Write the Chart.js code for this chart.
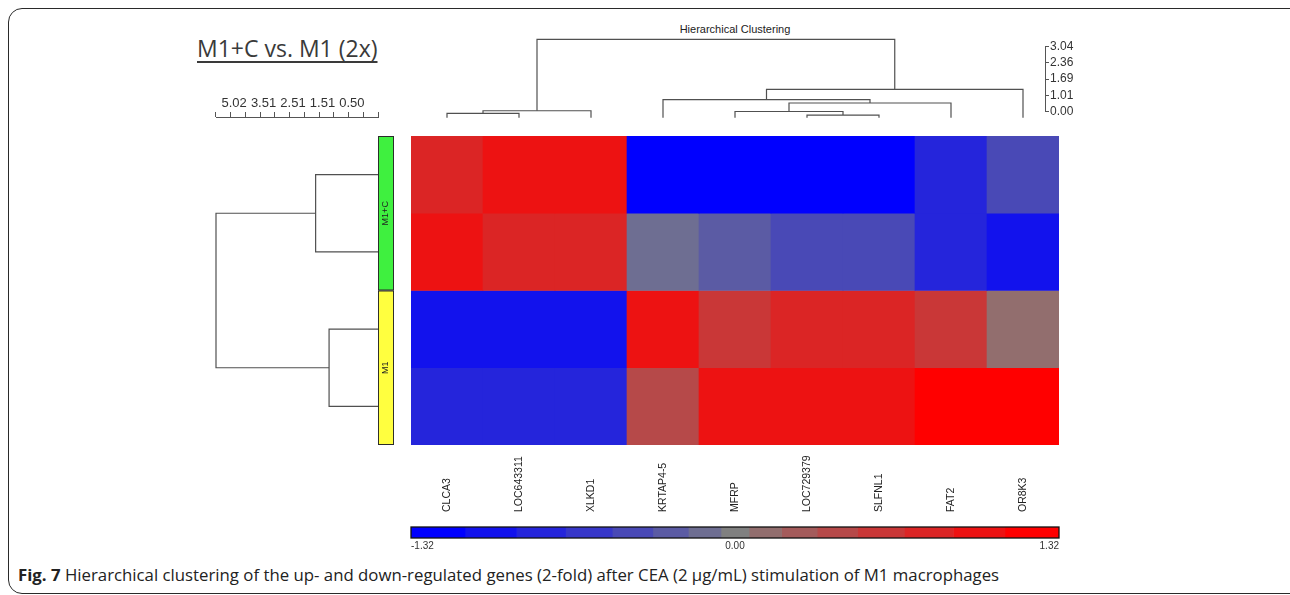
<!DOCTYPE html>
<html>
<head>
<meta charset="utf-8">
<script src="https://cdn.jsdelivr.net/npm/chart.js@4.4.1/dist/chart.umd.min.js"></script>
<style>
html, body { margin: 0; padding: 0; background: #fff; overflow: hidden; }
body { width: 1290px; height: 595px; position: relative; font-family: "Liberation Sans", Arial, sans-serif; }
.frame { position: absolute; left: 8px; top: 8px; width: 1300px; height: 586px; border: 1.5px solid #2a2a2a; border-radius: 14px; box-sizing: border-box; }
canvas { position: absolute; }
.title { position: absolute; left: 197px; top: 32px; font: 23px "Open Sans", sans-serif; color: #3a3a3a; text-decoration: underline; text-decoration-thickness: 2px; text-underline-offset: 4px; }
.hc { position: absolute; left: 635px; width: 200px; top: 23px; text-align: center; font-size: 11px; color: #222; }
.cap { position: absolute; left: 18px; top: 563px; font: 16.8px "Open Sans", sans-serif; color: #222; white-space: nowrap; }
</style>
</head>
<body>
<div class="frame"></div>
<div class="title">M1+C vs. M1 (2x)</div>
<div class="hc">Hierarchical Clustering</div>
<canvas id="geneTree" width="648" height="85" style="left:411px;top:35px"></canvas>
<canvas id="geneScale" width="80" height="82" style="left:1005px;top:38px"></canvas>
<canvas id="sampleScale" width="182" height="32" style="left:206px;top:93px"></canvas>
<canvas id="sampleTree" width="174" height="321" style="left:210px;top:130px"></canvas>
<canvas id="sampleStrip" width="24" height="317" style="left:374px;top:132px"></canvas>
<canvas id="heatmap" width="648" height="384" style="left:411px;top:136px"></canvas>
<canvas id="colorBar" width="660" height="30" style="left:405px;top:524px"></canvas>
<div class="cap"><b>Fig. 7</b> Hierarchical clustering of the up- and down-regulated genes (2-fold) after CEA (2 µg/mL) stimulation of M1 macrophages</div>
<script>
const genes = ['CLCA3', 'LOC643311', 'XLKD1', 'KRTAP4-5', 'MFRP', 'LOC729379', 'SLFNL1', 'FAT2', 'OR8K3'];
const samples = ['M1+C', 'M1+C', 'M1', 'M1'];

// z-scores per sample row, in gene order
const zM1C_a = [0.80, 1.00, 1.05, -1.32, -1.30, -1.28, -1.29, -0.78, -0.42];
const zM1C_b = [1.02, 0.76, 0.78, -0.12, -0.26, -0.44, -0.45, -0.80, -1.02];
const zM1_a = [-1.00, -1.01, -0.99, 1.04, 0.60, 0.79, 0.80, 0.58, 0.12];
const zM1_b = [-0.82, -0.84, -0.75, 0.42, 1.00, 1.02, 0.98, 1.25, 1.30];

const colorBreaks = [-1.32, -1.10, -0.89, -0.69, -0.50, -0.335, -0.19, -0.057, 0.057, 0.19, 0.335, 0.50, 0.69, 0.89, 1.10, 1.32];
const colorTicks = [-1.32, 0, 1.32];

// [left node, right node, height]; leaves are 0..n-1, merge i becomes node n+i
const geneMerges = [[0, 1, 0.17], [9, 2, 0.27], [5, 6, 0.10], [4, 11, 0.24], [12, 7, 0.57], [3, 13, 0.70], [14, 8, 1.10], [10, 15, 3.04]];
const sampleMerges = [[0, 1, 3.85], [2, 3, 3.02], [4, 5, 10]];

const geneHeightTicks = ['3.04', '2.36', '1.69', '1.01', '0.00'];
const sampleHeightTicks = ['5.02', '3.51', '2.51', '1.51', '0.50'];

const groupColors = { 'M1+C': '#3ff03f', 'M1': '#ffff3f' };

Chart.defaults.font.family = '"Liberation Sans", Arial, sans-serif';
Chart.defaults.color = '#333';
Chart.defaults.animation = false;
Chart.defaults.responsive = false;
Chart.defaults.events = [];
Chart.defaults.plugins.legend.display = false;
Chart.defaults.plugins.tooltip.enabled = false;

function segmentColor(i) {
    const level = i - 7;
    const f = Math.abs(level) / 7;
    const g = Math.round(128 * (1 - f));
    const hi = Math.round(128 + 127 * f);
    return level < 0 ? `rgb(${g},${g},${hi})` : `rgb(${hi},${g},${g})`;
}

function colorFor(v) {
    let i = 0;
    while (i < colorBreaks.length - 2 && v >= colorBreaks[i + 1]) i++;
    return segmentColor(i);
}

function dendroSegments(merges, nLeaves) {
    const pos = [];
    const hgt = [];
    for (let i = 0; i < nLeaves; i++) { pos.push(i + 0.5); hgt.push(0); }
    return merges.map(([a, b, h]) => {
        const seg = [[pos[a], hgt[a]], [pos[a], h], [pos[b], h], [pos[b], hgt[b]]];
        pos.push((pos[a] + pos[b]) / 2);
        hgt.push(h);
        return seg;
    });
}

const treeLine = { showLine: true, borderColor: '#505050', borderWidth: 1.2, pointRadius: 0, clip: false };

// top dendrogram
new Chart(document.getElementById('geneTree'), {
    type: 'scatter',
    data: {
        datasets: dendroSegments(geneMerges, genes.length).map(seg => ({
            ...treeLine,
            data: seg.map(([p, h]) => ({ x: p, y: h })),
        })),
    },
    options: {
        layout: { padding: { top: 4.3, bottom: 2.3 } },
        scales: {
            x: { type: 'linear', display: false, min: 0, max: genes.length },
            y: { type: 'linear', display: false, min: 0, max: 3.04 },
        },
    },
});

// height scale for the gene tree
new Chart(document.getElementById('geneScale'), {
    type: 'bar',
    data: { labels: geneHeightTicks, datasets: [] },
    options: {
        layout: { padding: { top: 7, bottom: 7 } },
        scales: {
            x: { display: false },
            y: {
                type: 'category',
                position: 'right',
                offset: false,
                afterFit: s => { s.width = 40; },
                grid: { drawOnChartArea: false, tickLength: 4, color: '#555' },
                border: { color: '#555', width: 1 },
                ticks: { autoSkip: false, padding: 1, font: { size: 12 }, color: '#333' },
            },
        },
    },
});

// distance scale for the sample tree
new Chart(document.getElementById('sampleScale'), {
    type: 'bar',
    data: { datasets: [] },
    options: {
        layout: { padding: { left: 10, right: 10 } },
        scales: {
            y: { display: false },
            x: {
                type: 'linear',
                position: 'top',
                min: 0,
                max: 10,
                afterFit: s => { s.height = 24; },
                afterBuildTicks: s => { s.ticks = Array.from({ length: 11 }, (_, i) => ({ value: i })); },
                grid: { drawOnChartArea: false, tickLength: 5, color: '#555' },
                border: { color: '#555', width: 1 },
                ticks: {
                    padding: 1,
                    labelOffset: -4,
                    autoSkip: false,
                    maxRotation: 0,
                    font: { size: 13 },
                    color: '#333',
                    callback: (v, i) => (i % 2 === 1 ? sampleHeightTicks[(i - 1) / 2] : ''),
                },
            },
        },
    },
});

// left dendrogram
new Chart(document.getElementById('sampleTree'), {
    type: 'scatter',
    data: {
        datasets: dendroSegments(sampleMerges, samples.length).map(seg => ({
            ...treeLine,
            data: seg.map(([p, h]) => ({ x: h, y: p })),
        })),
    },
    options: {
        layout: { padding: 6 },
        scales: {
            x: { type: 'linear', display: false, min: 0, max: 10, reverse: true },
            y: { type: 'linear', display: false, min: 0, max: samples.length, reverse: true },
        },
    },
});

// sample group strip
const groups = [];
samples.forEach((s, i) => {
    const last = groups[groups.length - 1];
    if (last && last.name === s) last.to = i + 1;
    else groups.push({ name: s, from: i, to: i + 1 });
});

new Chart(document.getElementById('sampleStrip'), {
    type: 'bar',
    data: {
        labels: [''],
        datasets: groups.map(g => ({
            data: [[g.from, g.to]],
            backgroundColor: groupColors[g.name],
            borderColor: '#2a2a2a',
            borderWidth: 1.3,
            borderSkipped: false,
            grouped: false,
            barPercentage: 1,
            categoryPercentage: 1,
        })),
    },
    options: {
        layout: { padding: 4 },
        scales: {
            x: { display: false },
            y: { type: 'linear', display: false, min: 0, max: samples.length, reverse: true },
        },
    },
    plugins: [{
        id: 'groupLabels',
        afterDraw(chart) {
            const { ctx, scales: { x, y } } = chart;
            ctx.save();
            ctx.font = '9px "Liberation Sans", Arial, sans-serif';
            ctx.fillStyle = '#222';
            ctx.textAlign = 'center';
            ctx.textBaseline = 'middle';
            groups.forEach(g => {
                ctx.save();
                ctx.translate(x.getPixelForValue(0), y.getPixelForValue((g.from + g.to) / 2));
                ctx.rotate(-Math.PI / 2);
                ctx.fillText(g.name, 0, 0);
                ctx.restore();
            });
            ctx.restore();
        },
    }],
});

// heatmap
const heatRows = [zM1C_a, zM1C_b, zM1_a, zM1_b];

new Chart(document.getElementById('heatmap'), {
    type: 'bar',
    data: {
        labels: genes,
        datasets: heatRows.map((row, r) => ({
            data: row.map(() => [r, r + 1]),
            backgroundColor: row.map(colorFor),
            borderWidth: 0,
            grouped: false,
            barPercentage: 1,
            categoryPercentage: 1,
        })),
    },
    options: {
        layout: { padding: { bottom: 75 } },
        scales: {
            x: { display: false },
            y: { type: 'linear', display: false, min: 0, max: heatRows.length, reverse: true },
        },
    },
    plugins: [{
        id: 'geneLabels',
        afterDraw(chart) {
            const { ctx, scales: { x }, chartArea } = chart;
            ctx.save();
            ctx.font = '10.5px "Liberation Sans", Arial, sans-serif';
            ctx.fillStyle = '#222';
            ctx.textAlign = 'left';
            ctx.textBaseline = 'middle';
            genes.forEach((g, i) => {
                ctx.save();
                ctx.translate(x.getPixelForValue(i), chartArea.bottom + 67);
                ctx.rotate(-Math.PI / 2);
                ctx.fillText(g, 0, 0);
                ctx.restore();
            });
            ctx.restore();
        },
    }],
});

// colour key
new Chart(document.getElementById('colorBar'), {
    type: 'bar',
    data: {
        labels: [''],
        datasets: colorBreaks.slice(0, -1).map((lo, i) => ({
            data: [[lo, colorBreaks[i + 1]]],
            backgroundColor: segmentColor(i),
            borderWidth: 0,
            grouped: false,
            barPercentage: 1,
            categoryPercentage: 1,
        })),
    },
    options: {
        indexAxis: 'y',
        layout: { padding: { left: 6, right: 6, top: 3 } },
        scales: {
            y: { display: false },
            x: {
                type: 'linear',
                min: colorTicks[0],
                max: colorTicks[colorTicks.length - 1],
                afterFit: s => { s.height = 16; },
                afterBuildTicks: s => { s.ticks = colorTicks.map(v => ({ value: v })); },
                grid: { display: false, drawTicks: false },
                border: { display: false },
                ticks: { align: 'inner', padding: 2, font: { size: 10 }, color: '#333', callback: v => v.toFixed(2) },
            },
        },
    },
    plugins: [{
        id: 'keyFrame',
        afterDatasetsDraw(chart) {
            const { ctx, chartArea: a } = chart;
            ctx.save();
            ctx.strokeStyle = '#111';
            ctx.lineWidth = 1.3;
            ctx.strokeRect(a.left, a.top, a.right - a.left, a.bottom - a.top);
            ctx.restore();
        },
    }],
});
</script>
</body>
</html>
